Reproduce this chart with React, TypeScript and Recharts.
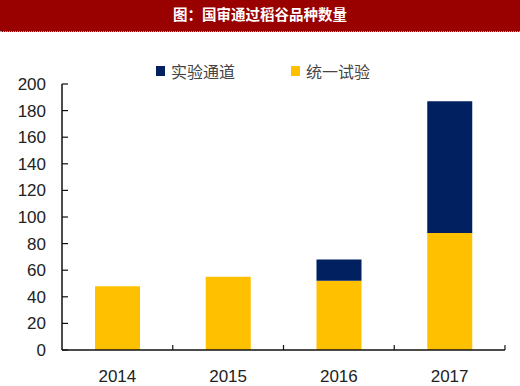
import React from 'react';
import { BarChart, Bar, XAxis, YAxis, Legend } from 'recharts';

const titleText = '图：国审通过稻谷品种数量';
const years = ['2014', '2015', '2016', '2017'];
const unifiedTrial = [48, 55, 52, 88];
const channelTrial = [0, 0, 16, 99];
const yTicks = [0, 20, 40, 60, 80, 100, 120, 140, 160, 180, 200];
const channelName = '实验通道';
const unifiedName = '统一试验';
const legendOrder = [channelName, unifiedName];

const data = years.map((year, i) => ({
  year,
  unified: unifiedTrial[i],
  channel: channelTrial[i],
}));

const Y_LABEL_GAP = 16;
const Y_TICK_LEN = 6;
const X_LABEL_GAP = 20;
const X_TICK_LEN = 5;

const YTick = (props: any) => {
  const { x, y, payload } = props;
  const axisX = x + Y_LABEL_GAP;
  return (
    <g>
      <line x1={axisX} x2={axisX + Y_TICK_LEN} y1={y} y2={y} stroke="#111" strokeWidth={1.2} />
      <text x={x} y={y} dy="0.355em" textAnchor="end" fill="#222" fontSize={17}>
        {payload.value}
      </text>
    </g>
  );
};

const XTick = (props: any) => {
  const { x, y, payload, width, visibleTicksCount } = props;
  const half =
    payload && typeof payload.offset === 'number' && payload.offset > 0
      ? payload.offset
      : width && visibleTicksCount
      ? width / visibleTicksCount / 2
      : 0;
  const axisY = y - X_LABEL_GAP;
  const bx = x + half;
  return (
    <g>
      {half > 0 && (
        <line x1={bx} x2={bx} y1={axisY} y2={axisY - X_TICK_LEN} stroke="#111" strokeWidth={1.2} />
      )}
      <text x={x} y={y} dy="0.71em" textAnchor="middle" fill="#222" fontSize={17}>
        {payload.value}
      </text>
    </g>
  );
};

const renderLegend = (props: any) => {
  const payload = [...(props.payload || [])].sort(
    (a: any, b: any) => legendOrder.indexOf(a.value) - legendOrder.indexOf(b.value)
  );
  return (
    <div style={{ display: 'flex', alignItems: 'center' }}>
      {payload.map((p: any, i: number) => (
        <div
          key={i}
          style={{ display: 'flex', alignItems: 'center', marginRight: i === 0 ? 56 : 0 }}
        >
          <span
            style={{
              display: 'inline-block',
              width: 9,
              height: 10,
              background: p.color,
              marginRight: 6,
            }}
          />
          <span
            style={{
              fontFamily: '"Noto Sans CJK SC", sans-serif',
              fontSize: 16,
              color: '#444',
              lineHeight: '18px',
            }}
          >
            {p.value}
          </span>
        </div>
      ))}
    </div>
  );
};

export default function App() {
  return (
    <div
      style={{
        position: 'absolute',
        left: 0,
        top: 0,
        width: 520,
        height: 386,
        background: '#fff',
        overflow: 'hidden',
      }}
    >
      <div style={{ position: 'absolute', left: 0, top: 0 }}>
        <BarChart
          width={520}
          height={386}
          data={data}
          margin={{ top: 84, right: 15, bottom: 6, left: 12 }}
          style={{ fontFamily: '"Liberation Sans", Arial, sans-serif' }}
        >
          <XAxis
            dataKey="year"
            tickLine={false}
            tickSize={0}
            tickMargin={X_LABEL_GAP}
            interval={0}
            axisLine={{ stroke: '#111', strokeWidth: 1.5 }}
            tick={XTick}
          />
          <YAxis
            domain={[0, 200]}
            ticks={yTicks}
            interval={0}
            width={50}
            tickLine={false}
            tickSize={0}
            tickMargin={Y_LABEL_GAP}
            axisLine={{ stroke: '#111', strokeWidth: 1.5 }}
            tick={YTick}
          />
          <Legend
            layout="horizontal"
            verticalAlign="middle"
            align="center"
            content={renderLegend}
            wrapperStyle={{ position: 'absolute', top: 62, left: 156, width: 'auto' }}
          />
          <Bar
            dataKey="unified"
            name={unifiedName}
            stackId="a"
            fill="#FFC000"
            barSize={45}
            isAnimationActive={false}
          />
          <Bar
            dataKey="channel"
            name={channelName}
            stackId="a"
            fill="#002060"
            barSize={45}
            isAnimationActive={false}
          />
        </BarChart>
      </div>
      <div
        style={{
          position: 'absolute',
          left: 0,
          top: 0,
          width: 520,
          height: 31,
          background: '#990000',
          borderBottom: '1px dotted #7fb0e0',
          color: '#fff',
          textAlign: 'center',
          fontFamily: '"Noto Sans CJK SC", sans-serif',
          fontWeight: 700,
          fontSize: 14.5,
          lineHeight: '27px',
        }}
      >
        {titleText}
      </div>
    </div>
  );
}
